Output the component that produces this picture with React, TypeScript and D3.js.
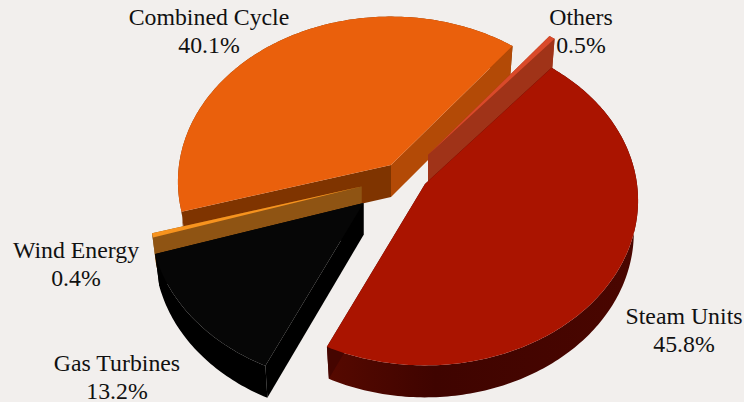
import React from "react";
import * as d3 from "d3";

const categories = ["Steam Units", "Gas Turbines", "Wind Energy", "Combined Cycle", "Others"];
const shares = [45.8, 13.2, 0.4, 40.1, 0.5];

const topColors = ["#aa1400", "#060606", "#f7931e", "#ea600c", "#d94a2a"];
const rimColors = ["url(#steamRim)", "#000000", "#8f5413", "#7f3400", "#a03318"];
const startWallColors = ["#500800", "#000000", "#8f5413", "#7f3400", "#a03318"];
const endWallColors = ["#450500", "#000000", "#8f5413", "#b34a06", "#a03318"];

const W = 744;
const H = 402;
const RADIUS = 212;
const TILT = 0.77;
const PERSPECTIVE = 0.1;
const DEPTH = 32;
const BOTTOM_SCALE = 0.98;
const START = (40 * Math.PI) / 180;

// Slice origins in screen space, and the order slices are painted back to front.
const origins: [number, number][] = [[425, 184], [363.5, 203], [361.5, 186.5], [391, 165], [428, 155]];
const paintOrder = [3, 2, 1, 4, 0];
const labelSpots: [number, number][] = [[684, 324], [117, 371], [76, 258], [209, 25], [581, 25]];

const flat = (a: number): [number, number] => {
  const u = Math.sin(a);
  const v = -Math.cos(a);
  const s = 1 / (1 - PERSPECTIVE * v);
  return [RADIUS * u * s, RADIUS * TILT * v * s];
};

const line = d3.line();

export default function App() {
  const arcs = d3
    .pie<number>()
    .sort(null)
    .value((d) => d)
    .startAngle(START)
    .endAngle(START + 2 * Math.PI)(shares);

  const slices = paintOrder.map((i) => {
    const arc = arcs[i];
    const [ox, oy] = origins[i];
    const steps = Math.max(2, Math.ceil((arc.endAngle - arc.startAngle) * 60));
    const rim = d3.range(steps + 1).map((k) => {
      const a = arc.startAngle + ((arc.endAngle - arc.startAngle) * k) / steps;
      const [x, y] = flat(a);
      return [ox + x, oy + y] as [number, number];
    });
    const drop = (p: [number, number]): [number, number] => [
      ox + (p[0] - ox) * BOTTOM_SCALE,
      p[1] + DEPTH,
    ];
    const apex: [number, number] = [ox, oy];
    const first = rim[0];
    const last = rim[rim.length - 1];
    const top = line([apex, ...rim])! + "Z";
    const outer = line([...rim, ...rim.map(drop).reverse()])! + "Z";
    const startWall = line([apex, first, drop(first), drop(apex)])! + "Z";
    const endWall = line([apex, last, drop(last), drop(apex)])! + "Z";
    return { i, top, outer, startWall, endWall };
  });

  return (
    <svg
      width={W}
      height={H}
      viewBox={`0 0 ${W} ${H}`}
      style={{ position: "absolute", left: 0, top: 0 }}
    >
      <defs>
        <linearGradient id="steamRim" gradientUnits="userSpaceOnUse" x1={327} y1={0} x2={637} y2={0}>
          <stop offset="0" stopColor="#560900" />
          <stop offset="0.35" stopColor="#3f0400" />
          <stop offset="1" stopColor="#4a0600" />
        </linearGradient>
      </defs>
      <rect width={W} height={H} fill="#f2efed" />
      {slices.map((s) => (
        <g key={s.i}>
          <path d={s.outer} fill={rimColors[s.i]} />
          <path d={s.startWall} fill={startWallColors[s.i]} />
          <path d={s.endWall} fill={endWallColors[s.i]} />
          <path d={s.top} fill={topColors[s.i]} />
        </g>
      ))}
      {categories.map((c, i) => (
        <text
          key={c}
          x={labelSpots[i][0]}
          y={labelSpots[i][1]}
          textAnchor="middle"
          fontFamily="'Liberation Serif', serif"
          fontSize={23.8}
          fill="#111111"
        >
          <tspan x={labelSpots[i][0]}>{c}</tspan>
          <tspan x={labelSpots[i][0]} dy={27.5}>{`${shares[i].toFixed(1)}%`}</tspan>
        </text>
      ))}
    </svg>
  );
}
